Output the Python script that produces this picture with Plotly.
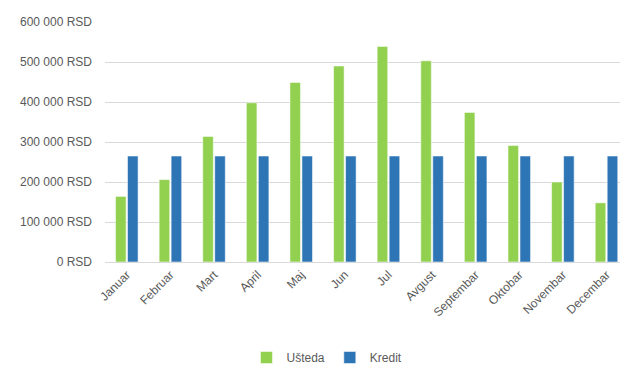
import plotly.graph_objects as go

# Monthly savings vs. loan payments (RSD)
months = ["Januar", "Februar", "Mart", "April", "Maj", "Jun", "Jul",
          "Avgust", "Septembar", "Oktobar", "Novembar", "Decembar"]
usteda = [164000, 206000, 314000, 398000, 449000, 490000, 539000,
          503000, 374000, 291000, 200000, 148000]
kredit = [265000] * 12

y_tick_vals = [0, 100000, 200000, 300000, 400000, 500000, 600000]
y_tick_text = ["0 RSD", "100 000 RSD", "200 000 RSD", "300 000 RSD",
               "400 000 RSD", "500 000 RSD", "600 000 RSD"]

GREEN = "#92D050"
BLUE = "#2E75B6"
TEXT = "#595959"
GRID = "#D9D9D9"
FONT = "Liberation Sans"

fig = go.Figure()
fig.add_trace(go.Bar(
    name="Ušteda", x=list(range(12)), y=usteda,
    marker=dict(color=GREEN, line=dict(color="rgba(255,255,255,0.7)", width=0.75)),
))
fig.add_trace(go.Bar(
    name="Kredit", x=list(range(12)), y=kredit,
    marker=dict(color=BLUE, line=dict(color="rgba(255,255,255,0.7)", width=0.75)),
))

W, H = 620, 365
left, top, bottom = 104.5, 22.3, 261.7

fig.update_layout(
    width=W, height=H,
    margin=dict(l=left, r=0, t=top, b=H - bottom, autoexpand=False),
    paper_bgcolor="white", plot_bgcolor="white",
    barmode="group", bargap=0.45, bargroupgap=0.12,
    font=dict(family=FONT, size=12, color=TEXT),
    showlegend=True,
    legend=dict(
        orientation="h", x=0.431, xanchor="center", y=-0.398, yanchor="middle",
        font=dict(family=FONT, size=12, color=TEXT),
        itemwidth=30, traceorder="normal",
    ),
)

fig.update_xaxes(
    range=[-0.5, 11.31],
    tickmode="array", tickvals=list(range(12)), ticktext=months,
    tickangle=-45, showgrid=False, ticks="",
    showline=True, linecolor=GRID, linewidth=1,
    tickfont=dict(family=FONT, size=12, color=TEXT),
)
fig.update_yaxes(
    range=[0, 600000],
    tickmode="array", tickvals=y_tick_vals, ticktext=y_tick_text,
    showgrid=True, gridcolor=GRID, gridwidth=1,
    zeroline=False, showline=False, ticks="",
    ticklabelstandoff=12,
    tickfont=dict(family=FONT, size=12, color=TEXT),
)

fig.write_html("out.html")
